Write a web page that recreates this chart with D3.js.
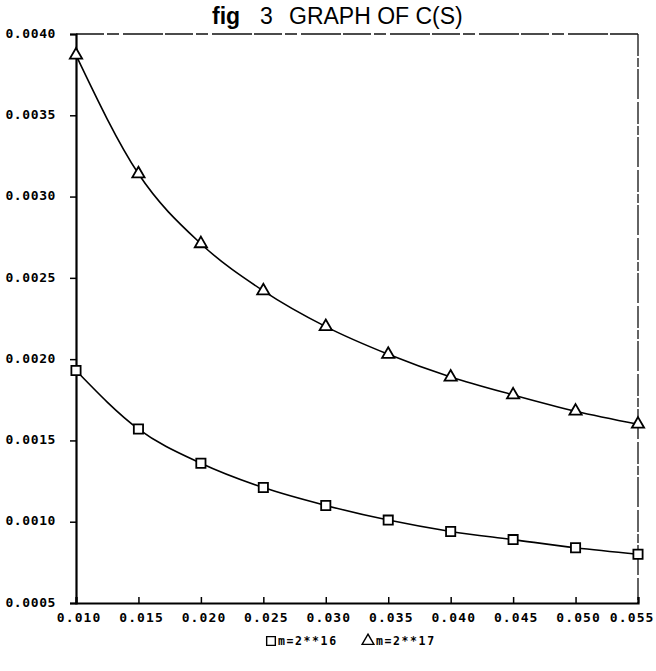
<!DOCTYPE html>
<html>
<head>
<meta charset="utf-8">
<script src="https://cdn.jsdelivr.net/npm/d3@7"></script>
<style>
  body { margin: 0; background: #fff; }
  .tick text { font-family: "DejaVu Sans Mono", monospace; font-weight: bold; }
</style>
</head>
<body>
<div id="chart"></div>
<script>
// data
var sValues = [0.010, 0.015, 0.020, 0.025, 0.030, 0.035, 0.040, 0.045, 0.050, 0.055];
var c16 = [0.00193, 0.00157, 0.00136, 0.00121, 0.00110, 0.00101, 0.00094, 0.00089, 0.00084, 0.00080];
var c17 = [0.00387, 0.00314, 0.00271, 0.00242, 0.00220, 0.00203, 0.00189, 0.00178, 0.00168, 0.00160];
var xTicks = [0.010, 0.015, 0.020, 0.025, 0.030, 0.035, 0.040, 0.045, 0.050, 0.055];
var yTicks = [0.0005, 0.0010, 0.0015, 0.0020, 0.0025, 0.0030, 0.0035, 0.0040];
var seriesNames = ["m=2**16", "m=2**17"];

var margin = {top: 34, right: 18, bottom: 68, left: 76};
var W = 656, H = 671;
var w = W - margin.left - margin.right,
    h = H - margin.top - margin.bottom;

var svg = d3.select("#chart").append("svg")
    .attr("width", W)
    .attr("height", H);

var chart = svg.append("g")
    .attr("transform", "translate(" + margin.left + "," + margin.top + ")");

var xscale = d3.scaleLinear().domain([0.010, 0.055]).range([0, w]);
var yscale = d3.scaleLinear().domain([0.0005, 0.0040]).range([h, 0]);

// frame: top and right edges drawn lighter/dashed like the scan
chart.append("line")
    .attr("x1", 0).attr("x2", w).attr("y1", 0).attr("y2", 0)
    .attr("stroke", "#111").attr("stroke-width", 1.5)
    .attr("stroke-dasharray", "28,3,12,4,40,2");
chart.append("line")
    .attr("x1", w).attr("x2", w).attr("y1", 0).attr("y2", h)
    .attr("stroke", "#111").attr("stroke-width", 1.3)
    .attr("stroke-dasharray", "22,2,9,2,30,3");

// y axis
var yAxis = chart.append("g")
    .call(d3.axisLeft(yscale).tickValues(yTicks).tickSize(6).tickPadding(14)
        .tickFormat(d3.format(".4f")));
yAxis.select(".domain").attr("stroke-width", 2.2);
yAxis.selectAll(".tick line").attr("stroke-width", 1.5);
yAxis.selectAll(".tick text").attr("font-size", 13).attr("dy", "0.25em")
    .attr("letter-spacing", "0.6px");

// x axis with inward ticks
var xAxis = chart.append("g")
    .attr("transform", "translate(0," + h + ")")
    .call(d3.axisBottom(xscale).tickValues(xTicks).tickSize(-6).tickPadding(10)
        .tickFormat(d3.format(".3f")));
xAxis.select(".domain").attr("stroke-width", 2.2);
xAxis.selectAll(".tick line").attr("stroke-width", 1.5);
xAxis.selectAll(".tick text").attr("font-size", 13).attr("letter-spacing", "1.1px")
    .attr("dx", "0.2em");
// last label sits against the right edge, as in the scan
xAxis.selectAll(".tick text").filter(function(d) { return d === 0.055; })
    .attr("text-anchor", "end").attr("dx", null)
    .attr("x", W - margin.left - w - 2);

var line = d3.line()
    .x(function(d, i) { return xscale(sValues[i]); })
    .y(function(d) { return yscale(d); })
    .curve(d3.curveMonotoneX);

[c16, c17].forEach(function(series) {
    chart.append("path")
        .datum(series)
        .attr("d", line)
        .attr("fill", "none")
        .attr("stroke", "#000")
        .attr("stroke-width", 1.6);
});

var square = d3.symbol().type(d3.symbolSquare).size(85);
var triangle = d3.symbol().type(d3.symbolTriangle).size(65);

chart.selectAll(".sq")
    .data(c16)
    .enter()
    .append("path")
    .attr("class", "sq")
    .attr("d", square)
    .attr("transform", function(d, i) { return "translate(" + xscale(sValues[i]) + "," + yscale(d) + ")"; })
    .attr("fill", "#fff").attr("stroke", "#000").attr("stroke-width", 1.8);

chart.selectAll(".tri")
    .data(c17)
    .enter()
    .append("path")
    .attr("class", "tri")
    .attr("d", triangle)
    .attr("transform", function(d, i) { return "translate(" + xscale(sValues[i]) + "," + yscale(d) + ")"; })
    .attr("fill", "#fff").attr("stroke", "#000").attr("stroke-width", 1.8);

// title
var title = svg.append("text")
    .attr("y", 24)
    .attr("font-family", "Liberation Sans, Arial, sans-serif")
    .attr("font-size", 23);
title.append("tspan").attr("x", 212).attr("font-weight", "bold").text("fig");
title.append("tspan").attr("x", 260).text("3");
title.append("tspan").attr("x", 289).text("GRAPH OF C(S)");

// legend
var legend = svg.append("g").attr("transform", "translate(0,641)");
legend.append("path")
    .attr("d", d3.symbol().type(d3.symbolSquare).size(75))
    .attr("transform", "translate(271,0)")
    .attr("fill", "none").attr("stroke", "#000").attr("stroke-width", 1.4);
legend.append("text")
    .attr("x", 278).attr("y", 4)
    .attr("font-family", "DejaVu Sans Mono, monospace")
    .attr("font-weight", "bold").attr("font-size", 11.5)
    .attr("letter-spacing", "1.6px")
    .text(seriesNames[0]);
legend.append("path")
    .attr("d", d3.symbol().type(d3.symbolTriangle).size(60))
    .attr("transform", "translate(368,0)")
    .attr("fill", "none").attr("stroke", "#000").attr("stroke-width", 1.4);
legend.append("text")
    .attr("x", 376).attr("y", 4)
    .attr("font-family", "DejaVu Sans Mono, monospace")
    .attr("font-weight", "bold").attr("font-size", 11.5)
    .attr("letter-spacing", "1.6px")
    .text(seriesNames[1]);
</script>
</body>
</html>
